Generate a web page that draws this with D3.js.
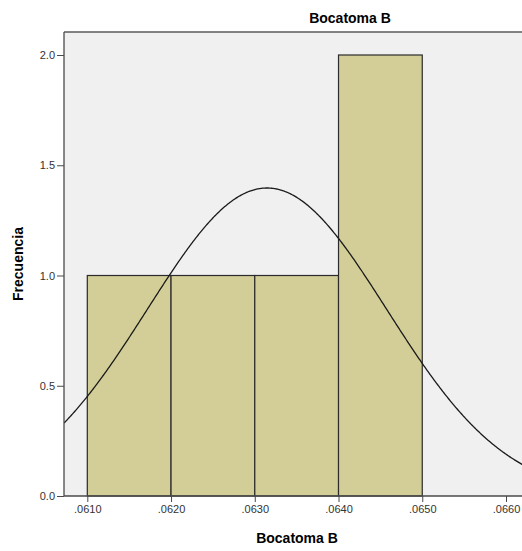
<!DOCTYPE html>
<html><head><meta charset="utf-8">
<script src="https://cdn.jsdelivr.net/npm/d3@7"></script>
<style>body{margin:0;background:#fff;}svg{display:block;}</style>
</head><body>
<svg id="c" width="522" height="551"></svg>
<script>
const binStarts = [0.0610, 0.0620, 0.0630, 0.0640];
const binEnds   = [0.0620, 0.0630, 0.0640, 0.0650];
const frequencies = [1, 1, 1, 2];
const xTicks = [0.0610, 0.0620, 0.0630, 0.0640, 0.0650, 0.0660];
const yTicks = [0.0, 0.5, 1.0, 1.5, 2.0];
const curveMean = 0.063146;
const curveSd = 0.001428;
const sampleN = 5;
const binWidth = 0.001;

const svg = d3.select("#c");
const L = 64, T = 32, R = 522, B = 496;
const x = d3.scaleLinear().domain([0.0610, 0.0660]).range([87.3, 506]);
const y = d3.scaleLinear().domain([0, 2]).range([B, 55]);

svg.append("rect").attr("x", L).attr("y", T).attr("width", R - L + 10).attr("height", B - T).attr("fill", "#f0f0f0");
svg.append("defs").append("clipPath").attr("id", "clip").append("rect")
  .attr("x", L).attr("y", T).attr("width", R - L + 10).attr("height", B - T);

svg.selectAll("rect.bar").data(frequencies).enter().append("rect").attr("class", "bar")
  .attr("x", (d, i) => x(binStarts[i]))
  .attr("width", (d, i) => x(binEnds[i]) - x(binStarts[i]))
  .attr("y", d => y(d)).attr("height", d => B - y(d))
  .attr("fill", "#d3ce97").attr("stroke", "#2b2b2b").attr("stroke-width", 1.2);

const dom = x.domain();
const xs = d3.range(x.invert(L), x.invert(R + 5), 0.00001);
const pdf = v => sampleN * binWidth / (curveSd * Math.sqrt(2 * Math.PI)) * Math.exp(-0.5 * Math.pow((v - curveMean) / curveSd, 2));
svg.append("path").datum(xs).attr("clip-path", "url(#clip)")
  .attr("d", d3.line().x(v => x(v)).y(v => y(pdf(v))).curve(d3.curveLinear))
  .attr("fill", "none").attr("stroke", "#1a1a1a").attr("stroke-width", 1.3);

// borders
svg.append("line").attr("x1", L).attr("x2", R + 5).attr("y1", T).attr("y2", T).attr("stroke", "#5a5a5a").attr("stroke-width", 1.3);
svg.append("line").attr("x1", L).attr("x2", L).attr("y1", T).attr("y2", B).attr("stroke", "#4a4a4a").attr("stroke-width", 1.3);
svg.append("line").attr("x1", L).attr("x2", R + 5).attr("y1", B).attr("y2", B).attr("stroke", "#4a4a4a").attr("stroke-width", 1.3);

const yAxis = d3.axisLeft(y).tickValues(yTicks).tickFormat(d3.format(".1f")).tickSize(7).tickPadding(2);
const ga = svg.append("g").attr("transform", `translate(${L},0)`).call(yAxis);
ga.select(".domain").remove();
ga.selectAll("line").attr("stroke", "#4a4a4a");
ga.selectAll("text").attr("font-family", "Arial, 'Liberation Sans', sans-serif").attr("font-size", 11).attr("fill", "#333");

const xAxis = d3.axisBottom(x).tickValues(xTicks).tickFormat(d => d3.format(".4f")(d).replace(/^0/, "")).tickSize(6).tickPadding(3);
const gx = svg.append("g").attr("transform", `translate(0,${B})`).call(xAxis);
gx.select(".domain").remove();
gx.selectAll("line").attr("stroke", "#4a4a4a");
gx.selectAll("text").attr("font-family", "Arial, 'Liberation Sans', sans-serif").attr("font-size", 11).attr("fill", "#333");

svg.append("text").attr("x", 350).attr("y", 23).attr("text-anchor", "middle")
  .attr("font-family", "Arial, 'Liberation Sans', sans-serif").attr("font-weight", "bold").attr("font-size", 14).text("Bocatoma B");
svg.append("text").attr("x", 297).attr("y", 543).attr("text-anchor", "middle")
  .attr("font-family", "Arial, 'Liberation Sans', sans-serif").attr("font-weight", "bold").attr("font-size", 14).text("Bocatoma B");
svg.append("text").attr("transform", "translate(23,264) rotate(-90)").attr("text-anchor", "middle")
  .attr("font-family", "Arial, 'Liberation Sans', sans-serif").attr("font-weight", "bold").attr("font-size", 14).text("Frecuencia");
</script>
</body></html>
